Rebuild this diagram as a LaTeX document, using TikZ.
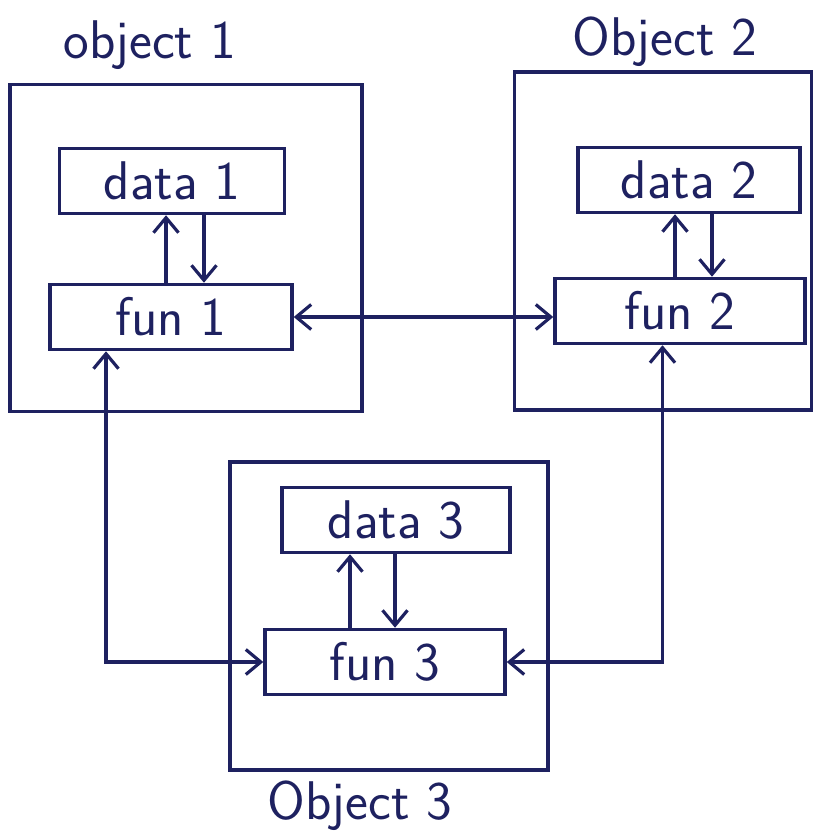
\documentclass[tikz,border=0pt]{standalone}
\usetikzlibrary{arrows.meta}
\definecolor{pen}{HTML}{1E2160}
\begin{document}
\begin{tikzpicture}[
            x=0.02cm, y=-0.02cm,
            >={Straight Barb[length=3mm,width=5mm]},
            every node/.style={font=\sffamily\fontsize{31}{35}\selectfont, text=pen},
            objbox/.style={draw=pen, line width=2pt},
            membox/.style={draw=pen, line width=2pt, minimum height=1.3cm},
            link/.style={draw=pen, line width=1.8pt}]

            \useasboundingbox (0,0) rectangle (821,837);

            % object 1
            \node[objbox, minimum width=7.04cm, minimum height=6.54cm] (obj1) at (186,248) {};
            \node (lab1) at (150,45) {object 1};
            \node[membox, minimum width=4.5cm] (data1) at (172,181) {data 1};
            \node[membox, minimum width=4.84cm] (fun1) at (171,317) {fun 1};

            % object 2
            \node[objbox, minimum width=5.94cm, minimum height=6.76cm] (obj2) at (663,241) {};
            \node (lab2) at (665,42) {Object 2};
            \node[membox, minimum width=4.44cm] (data2) at (689,180) {data 2};
            \node[membox, minimum width=5cm] (fun2) at (680,311) {fun 2};

            % object 3
            \node[objbox, minimum width=6.36cm, minimum height=6.16cm] (obj3) at (389,616) {};
            \node (lab3) at (360,806) {Object 3};
            \node[membox, minimum width=4.56cm] (data3) at (396,520) {data 3};
            \node[membox, minimum width=4.8cm] (fun3) at (385,662) {fun 3};

            % inside each object
            \draw[link,->] ([xshift=-0.1cm]fun1.north) -- ([xshift=-0.1cm]fun1.north |- data1.south);
            \draw[link,->] ([xshift=0.66cm]fun1.north |- data1.south) -- ([xshift=0.66cm]fun1.north);
            \draw[link,->] ([xshift=-0.1cm]fun2.north) -- ([xshift=-0.1cm]fun2.north |- data2.south);
            \draw[link,->] ([xshift=0.64cm]fun2.north |- data2.south) -- ([xshift=0.64cm]fun2.north);
            \draw[link,->] ([xshift=-0.7cm]fun3.north) -- ([xshift=-0.7cm]fun3.north |- data3.south);
            \draw[link,->] ([xshift=0.2cm]fun3.north |- data3.south) -- ([xshift=0.2cm]fun3.north);

            % between objects
            \draw[link,<->] (fun1.east) -- (fun1.east -| fun2.west);
            \draw[link,<->] ([xshift=-1.3cm]fun1.south) |- (fun3.west);
            \draw[link,<->] (fun3.east) -| ([xshift=-0.35cm]fun2.south);
        \end{tikzpicture}
\end{document}
